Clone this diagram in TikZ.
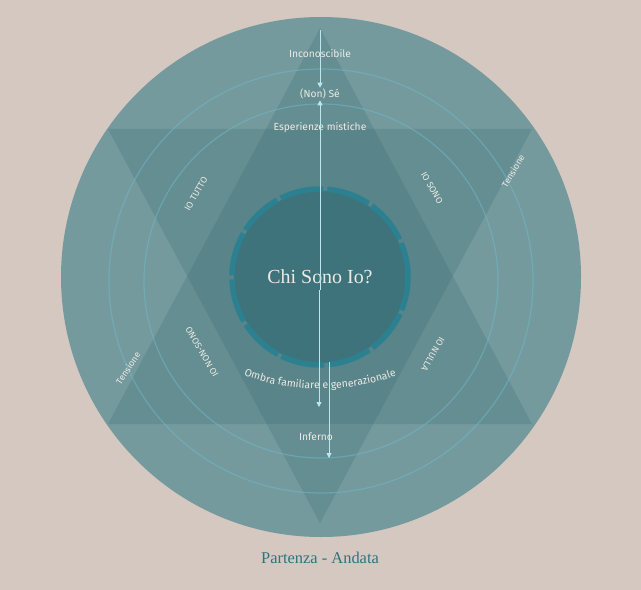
\documentclass[tikz,border=0pt]{standalone}
\usepackage{fontspec}
\setmainfont{Liberation Serif}
\setsansfont{Fira Sans}
\usetikzlibrary{arrows.meta,decorations.text}
\definecolor{sand}{HTML}{D4C8C0}
\definecolor{disc}{HTML}{749A9E}
\definecolor{prism}{HTML}{2C5F68}
\definecolor{core}{HTML}{3E737B}
\definecolor{ring}{HTML}{2C8190}
\definecolor{orbit}{HTML}{6FBACC}
\definecolor{chalk}{HTML}{ECEAE3}
\definecolor{ray}{HTML}{BDE6EF}
\definecolor{title}{HTML}{2E7380}
\tikzset{
  TriangleStyle/.style={fill=prism,fill opacity=.2},
  OrbitStyle/.style={draw=orbit,line width=1.2bp,opacity=.5},
  RingStyle/.style={draw=ring,line width=5.5bp,dash pattern=on 44bp off 4bp,dash phase=10bp},
  LabelStyle/.style={text=chalk,inner sep=1bp,font=\sffamily\fontsize{10.3}{12}\selectfont},
  SmallStyle/.style={LabelStyle,font=\sffamily\fontsize{9}{10}\selectfont},
  ArrowStyle/.style={-{Triangle[length=5bp,width=5bp]},draw=ray,line width=.9bp}
}

\begin{document}
\begin{tikzpicture}[x=1bp,y=-1bp]
  \fill[sand] (0,0) rectangle (641,590);
  \fill[disc] (321,277) circle[radius=260];

  % the two triangles
  \fill[TriangleStyle] (320,28) -- (532,424) -- (108,424) -- cycle;
  \fill[TriangleStyle] (108,129) -- (532,129) -- (320,523) -- cycle;
  \foreach \r in {177,212}
    \draw[OrbitStyle] (321,281) circle[radius=\r];

  \fill[core] (320,277) circle[radius=86];
  \draw[RingStyle] (320,277) circle[radius=88];

  \node[LabelStyle] (inconoscibile) at (320,54) {Inconoscibile};
  \node[LabelStyle] (nonse) at (320,94) {(Non) Sé};
  \node[LabelStyle] (mistiche) at (320,128) {Esperienze mistiche};
  \node[text=chalk,font=\fontsize{20}{24}\selectfont] (chi) at (320,277) {Chi Sono Io?};
  \node[SmallStyle,rotate=60] (tutto) at (196,194) {IO TUTTO};
  \node[SmallStyle,rotate=-60] (sono) at (432,188) {IO SONO};
  \node[SmallStyle,rotate=120] (nonsono) at (202,352) {IO NON-SONO};
  \node[SmallStyle,rotate=-120] (nulla) at (433,354) {IO NULLA};
  \node[SmallStyle,rotate=60] (tensioneA) at (513,171) {Tensione};
  \node[SmallStyle,rotate=57] (tensioneB) at (128,368) {Tensione};
  \node[LabelStyle] (inferno) at (316,437) {Inferno};
  \node[text=title,font=\fontsize{16.5}{19}\selectfont] (partenza) at (320,558) {Partenza - Andata};

  \path[decorate,decoration={text along path,text align=center,text color=chalk,
    text={|\sffamily\fontsize{10.5}{12}\selectfont|Ombra familiare e generazionale}}]
    (245,376) arc[start angle=109.5,end angle=70.5,radius=225];

  \coordinate (apex) at (320,30);
  \coordinate (heart) at (320,290);
  \coordinate (heartL) at (319,290);
  \coordinate (ombra) at (319,407);
  \coordinate (coreBase) at (329,362);
  \coordinate (abyss) at (329,458);

  \draw[ArrowStyle] (apex) -- (nonse.north);
  \draw[ArrowStyle] (heart) -- (nonse.south);
  \draw[ArrowStyle] (heartL) -- (ombra);
  \draw[ArrowStyle] (coreBase) -- (abyss);
\end{tikzpicture}
\end{document}
